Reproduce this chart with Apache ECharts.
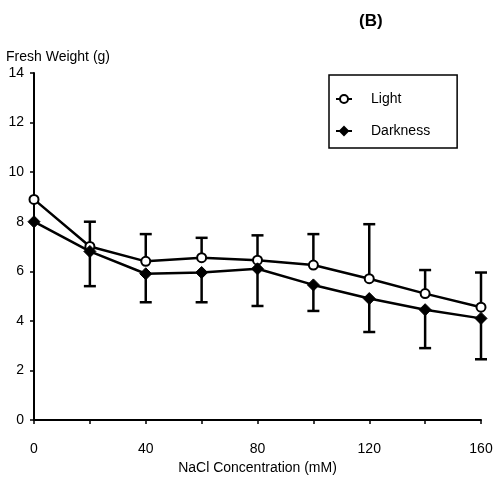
<!DOCTYPE html>
<html>
<head>
<meta charset="utf-8">
<script src="https://cdn.jsdelivr.net/npm/echarts@6/dist/echarts.min.js"></script>
<style>
  html, body { margin: 0; padding: 0; background: #fff; }
  #main { width: 502px; height: 483px; }
</style>
</head>
<body>
<div id="main"></div>
<script>
    // data
    var conc = [0, 20, 40, 60, 80, 100, 120, 140, 160];
    var light = [8.9, 7.0, 6.4, 6.55, 6.45, 6.25, 5.7, 5.1, 4.55];
    var lightUpper = [null, 8.0, 7.5, 7.35, 7.45, 7.5, 7.9, 6.05, 5.95];
    var dark = [8.0, 6.8, 5.9, 5.95, 6.1, 5.45, 4.9, 4.45, 4.1];
    var darkLower = [null, 5.4, 4.75, 4.75, 4.6, 4.4, 3.55, 2.9, 2.45];

    var font = 'Liberation Sans, Arial, sans-serif';

    function pairs(ys) {
        return conc.map(function (x, i) { return [x, ys[i]]; });
    }
    function errData(ys, bounds) {
        var out = [];
        conc.forEach(function (x, i) {
            if (bounds[i] != null) out.push([x, ys[i], bounds[i]]);
        });
        return out;
    }

    // error bar: stem from the mean to the bound, with a cap at the bound
    function renderErr(params, api) {
        var p0 = api.coord([api.value(0), api.value(1)]);
        var p1 = api.coord([api.value(0), api.value(2)]);
        var half = 6;
        var style = { stroke: '#000', lineWidth: 2.5 };
        return {
            type: 'group',
            children: [
                { type: 'line', shape: { x1: p0[0], y1: p0[1], x2: p1[0], y2: p1[1] }, style: style },
                { type: 'line', shape: { x1: p1[0] - half, y1: p1[1], x2: p1[0] + half, y2: p1[1] }, style: style }
            ]
        };
    }

    var chart = echarts.init(document.getElementById('main'));

    chart.setOption({
        animation: false,
        backgroundColor: '#fff',
        textStyle: { fontFamily: font, color: '#000' },
        title: {
            text: '(B)',
            left: 354,
            top: 8,
            textStyle: { fontFamily: font, fontSize: 17, fontWeight: 'bold', color: '#000' }
        },
        grid: {
            left: 34,
            right: 21,
            top: 73,
            bottom: 63
        },
        legend: {
            orient: 'vertical',
            left: 329,
            top: 75,
            padding: [17, 27, 10, 6],
            itemGap: 18,
            itemWidth: 16,
            itemHeight: 10,
            borderColor: '#000',
            borderWidth: 1.5,
            textStyle: { fontFamily: font, fontSize: 14, color: '#000', padding: [0, 0, 0, 14] },
            data: ['Light', 'Darkness']
        },
        xAxis: {
            type: 'value',
            min: 0,
            max: 160,
            interval: 20,
            name: 'NaCl Concentration (mM)',
            nameLocation: 'middle',
            nameGap: 41,
            nameTextStyle: { fontFamily: font, fontSize: 14, color: '#000' },
            splitLine: { show: false },
            axisLine: { lineStyle: { color: '#000', width: 2 } },
            axisTick: { length: 4, lineStyle: { color: '#000', width: 1.5 } },
            axisLabel: {
                margin: 22,
                fontSize: 14,
                color: '#000',
                fontFamily: font,
                formatter: function (v) { return v % 40 === 0 ? String(v) : ''; }
            }
        },
        yAxis: {
            type: 'value',
            min: 0,
            max: 14,
            interval: 2,
            name: 'Fresh Weight (g)',
            nameLocation: 'end',
            nameGap: 9,
            nameTextStyle: { fontFamily: font, fontSize: 14, color: '#000', align: 'left', padding: [0, 0, 0, -28] },
            splitLine: { show: false },
            axisLine: { lineStyle: { color: '#000', width: 2 } },
            axisTick: { length: 4, lineStyle: { color: '#000', width: 1.5 } },
            axisLabel: { margin: 10, fontSize: 14, color: '#000', fontFamily: font }
        },
        series: [
            {
                name: 'Light',
                type: 'line',
                data: pairs(light),
                symbol: 'circle',
                symbolSize: 9,
                z: 4,
                lineStyle: { color: '#000', width: 2.5 },
                itemStyle: { color: '#fff', borderColor: '#000', borderWidth: 2 }
            },
            {
                name: 'Darkness',
                type: 'line',
                data: pairs(dark),
                symbol: 'diamond',
                symbolSize: 12,
                z: 4,
                lineStyle: { color: '#000', width: 2.5 },
                itemStyle: { color: '#000', borderColor: '#000', borderWidth: 1 }
            },
            {
                type: 'custom',
                name: 'lightErr',
                renderItem: renderErr,
                data: errData(light, lightUpper),
                encode: { x: 0, y: [1, 2] },
                z: 3
            },
            {
                type: 'custom',
                name: 'darkErr',
                renderItem: renderErr,
                data: errData(dark, darkLower),
                encode: { x: 0, y: [1, 2] },
                z: 3
            }
        ]
    });
</script>
</body>
</html>
